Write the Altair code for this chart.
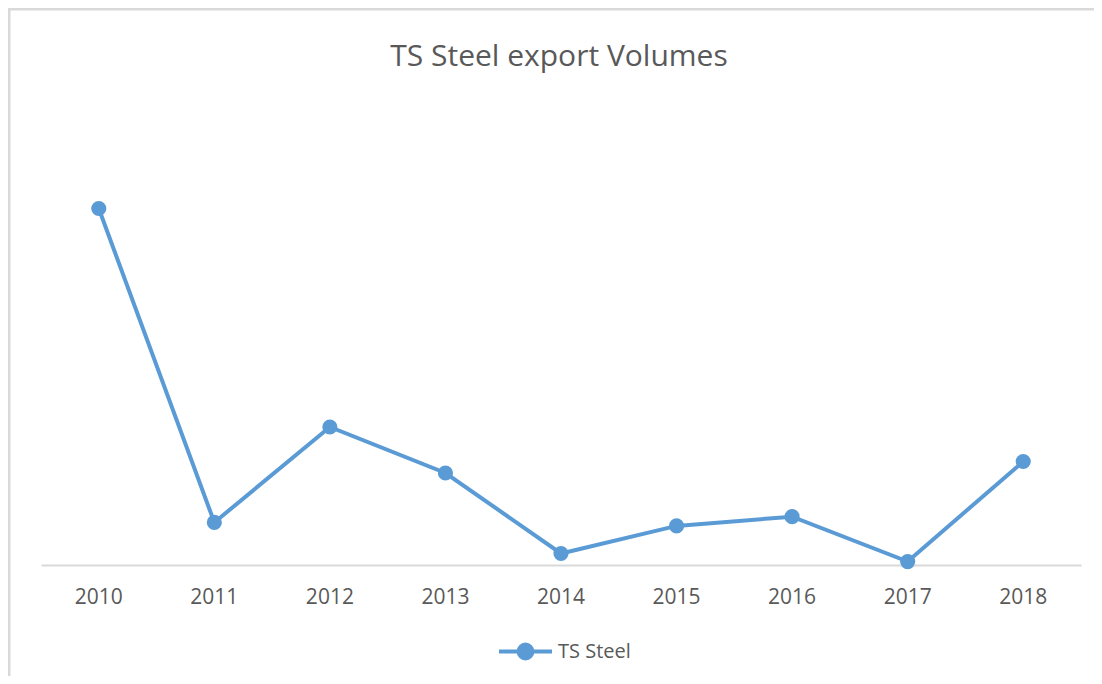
import altair as alt
import pandas as pd

years = ["2010", "2011", "2012", "2013", "2014", "2015", "2016", "2017", "2018"]
volumes = [310, 37, 120, 80, 10, 34, 42, 3, 90]
series_name = "TS Steel"
title_text = "TS Steel export Volumes"

df = pd.DataFrame({"Year": years, "Volume": volumes, "Series": [series_name] * len(years)})

BLUE = "#5B9BD5"
TEXT = "#595959"
GRID = "#D9D9D9"
W, H = 1040, 460
PAD = {"left": 33, "top": 97, "right": 13, "bottom": 111}

legend_path = "M-1,0H1M-0.26,0A0.26,0.26 0 1,0 0.26,0A0.26,0.26 0 1,0 -0.26,0Z"

line = alt.Chart(df).mark_line(
    strokeWidth=4,
    point=alt.OverlayMarkDef(filled=True, size=230, color=BLUE),
).encode(
    x=alt.X("Year:N", sort=years,
            scale=alt.Scale(type="band", paddingInner=0, paddingOuter=0),
            axis=alt.Axis(title=None, labelAngle=0, labelFontSize=21, labelColor=TEXT,
                          labelFont="Open Sans", ticks=False, domainColor=GRID,
                          domainWidth=2, labelPadding=21, grid=False)),
    y=alt.Y("Volume:Q", scale=alt.Scale(domain=[0, 400], nice=False, zero=True), axis=None),
    color=alt.Color("Series:N", scale=alt.Scale(range=[BLUE]),
                    legend=alt.Legend(title=None, orient="none", legendX=456, legendY=518,
                                      symbolType=legend_path, symbolSize=2809,
                                      symbolStrokeWidth=4, symbolFillColor=BLUE,
                                      symbolStrokeColor=BLUE, labelFontSize=20,
                                      labelColor=TEXT, labelFont="Open Sans",
                                      labelOffset=4)),
)

frame = pd.DataFrame({"a": [0]})
top_border = alt.Chart(frame).mark_rule(color=GRID, strokeWidth=3).encode(
    x=alt.value(-33), x2=alt.value(W + 13), y=alt.value(-96)
)
left_border = alt.Chart(frame).mark_rule(color=GRID, strokeWidth=3).encode(
    x=alt.value(-32), y=alt.value(-97), y2=alt.value(H + 111)
)
title = alt.Chart(pd.DataFrame({"t": [title_text]})).mark_text(
    fontSize=30, color=TEXT, font="Open Sans", align="center", baseline="middle"
).encode(text="t:N", x=alt.value(W / 2 - 2), y=alt.value(-48))

chart = alt.layer(top_border, left_border, title, line).properties(
    width=W, height=H,
    padding=PAD,
    autosize=alt.AutoSizeParams(type="none"),
).configure(font="Open Sans", background="white").configure_view(
    stroke="transparent", strokeWidth=0
)

chart.save("out.html", embed_options={"renderer": "svg", "actions": False})
